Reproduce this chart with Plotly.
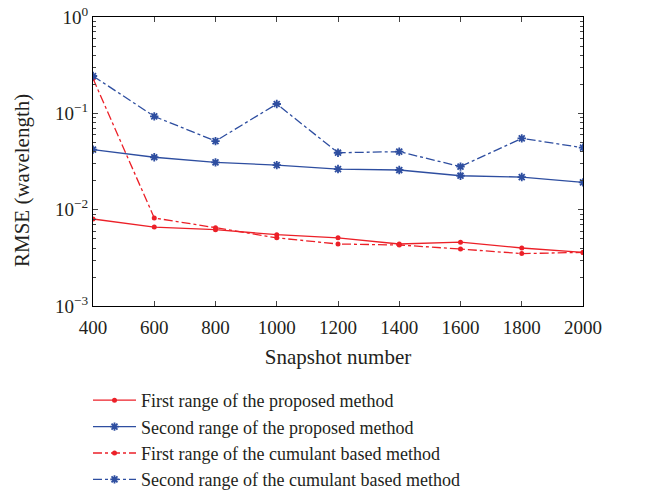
import plotly.graph_objects as go

snapshots = [400, 600, 800, 1000, 1200, 1400, 1600, 1800, 2000]
first_proposed = [0.0080, 0.0066, 0.0062, 0.0055, 0.0051, 0.0044, 0.0046, 0.0040, 0.0036]
second_proposed = [0.042, 0.035, 0.031, 0.029, 0.0264, 0.0258, 0.0225, 0.0218, 0.0192]
first_cumulant = [0.23, 0.0082, 0.0065, 0.0051, 0.0044, 0.0043, 0.0039, 0.0035, 0.0036]
second_cumulant = [0.244, 0.093, 0.0515, 0.125, 0.039, 0.040, 0.028, 0.055, 0.044]
names = ["First range of the proposed method",
         "Second range of the proposed method",
         "First range of the cumulant based method",
         "Second range of the cumulant based method"]
ytick_vals = [0.001, 0.01, 0.1, 1]
ytick_text = ["10<sup>−3</sup>", "10<sup>−2</sup>", "10<sup>−1</sup>", "10<sup>0</sup>"]

RED = "rgb(236,32,40)"
BLUE = "rgb(46,78,160)"
FONT = "Liberation Serif"
TXT = "#231f20"

W, H = 658, 491
L, R, T, B = 93, 75, 17, 185
PW, PH = W - L - R, H - T - B

def px_x(x):
    return (x - L) / PW

def px_y(y):
    return (H - B - y) / PH

fig = go.Figure()
series = [(first_proposed, RED, "solid", "circle"),
          (second_proposed, BLUE, "solid", "asterisk-open"),
          (first_cumulant, RED, "dashdot", "circle"),
          (second_cumulant, BLUE, "dashdot", "asterisk-open")]
for (vals, col, dash, sym), nm in zip(series, names):
    mk = dict(symbol=sym, color=col, size=5 if sym == "circle" else 7,
              line=dict(color=col, width=1.8 if sym != "circle" else 0))
    fig.add_trace(go.Scatter(x=snapshots, y=vals, name=nm, mode="lines+markers",
                             line=dict(color=col, width=1.3, dash=dash), marker=mk))

fig.update_layout(
    width=W, height=H,
    margin=dict(l=L, r=R, t=T, b=B, autoexpand=False),
    paper_bgcolor="white", plot_bgcolor="white",
    font=dict(family=FONT, size=19, color=TXT),
    showlegend=True,
    legend=dict(x=px_x(88), y=px_y(382),
                xanchor="left", yanchor="top", itemwidth=43,
                font=dict(family=FONT, size=18, color=TXT),
                bgcolor="rgba(0,0,0,0)", tracegroupgap=0),
    xaxis=dict(range=[400, 2000], tickvals=snapshots, ticks="inside", ticklen=5,
               showline=True, linecolor="black", linewidth=1, mirror="allticks",
               showgrid=False, zeroline=False, ticklabelstandoff=4,
               title=dict(text="Snapshot number", font=dict(family=FONT, size=21), standoff=12),
               tickfont=dict(family=FONT, size=19)),
    yaxis=dict(type="log", range=[-3, 0], tickvals=ytick_vals, ticktext=ytick_text,
               ticks="inside", ticklen=5,
               minor=dict(ticks="inside", ticklen=3, dtick="D1", showgrid=False),
               showline=True, linecolor="black", linewidth=1, mirror="allticks",
               showgrid=False, zeroline=False,
               tickfont=dict(family=FONT, size=19)),
    annotations=[dict(text="RMSE (wavelength)", textangle=-90, showarrow=False,
                      xref="paper", yref="paper", x=px_x(22), y=px_y(181),
                      xanchor="center", yanchor="middle",
                      font=dict(family=FONT, size=21, color=TXT))],
)

fig.write_html("out.html")
